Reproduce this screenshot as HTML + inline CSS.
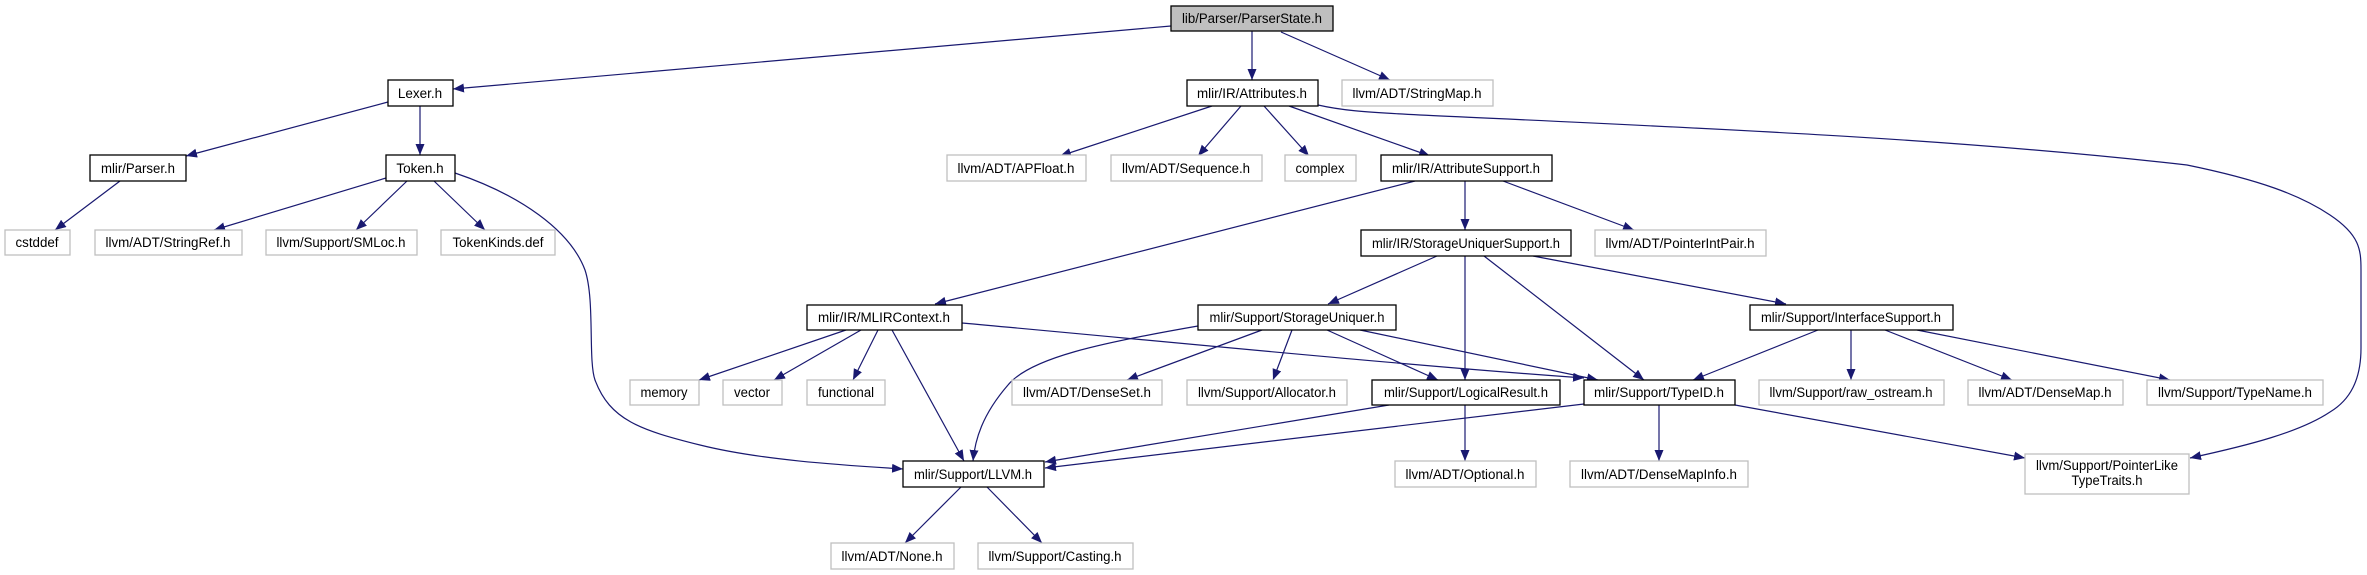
<!DOCTYPE html>
<html><head><meta charset="utf-8"><style>html,body{margin:0;padding:0;background:#fff}svg{display:block}</style></head>
<body>
<svg width="2367" height="575" viewBox="0 0 2367 575" xmlns="http://www.w3.org/2000/svg" font-family="Liberation Sans, Arial, sans-serif" font-size="13.5">
<defs>
<marker id="a" markerUnits="userSpaceOnUse" markerWidth="12" markerHeight="10" refX="11" refY="4.5" orient="auto">
<path d="M0,0 L11,4.5 L0,9 z" fill="#191970"/>
</marker>
</defs>
<g stroke="#191970" stroke-width="1.2" fill="none" marker-end="url(#a)">
<path d="M1171,26 L453,89"/>
<path d="M1252,31 L1252,80"/>
<path d="M1281,32 L1390,80"/>
<path d="M388,102 L186,156"/>
<path d="M420,106 L420,155"/>
<path d="M120,181 L55,230"/>
<path d="M386,178 L214,230"/>
<path d="M407,181 L356,230"/>
<path d="M434,181 L485,230"/>
<path d="M455,173 C520,195 570,230 585,270 C595,300 588,360 595,380 C610,420 640,430 700,445 C760,460 840,465 903,469"/>
<path d="M1212,106 L1060,156"/>
<path d="M1241,106 L1198,156"/>
<path d="M1264,106 L1309,156"/>
<path d="M1289,106 L1430,156"/>
<path d="M1318,105 C1340,110 1360,112 1420,115 C1700,128 1950,138 2187,165 C2260,180 2300,195 2330,215 C2360,235 2361,250 2361,270 L2361,348 C2361,380 2350,400 2330,412 C2300,432 2250,445 2190,458"/>
<path d="M1415,181 L935,304"/>
<path d="M1465,181 L1465,230"/>
<path d="M1503,181 L1634,230"/>
<path d="M1437,256 L1328,304"/>
<path d="M1465,256 L1465,380"/>
<path d="M1484,256 L1644,380"/>
<path d="M1533,256 L1786,304"/>
<path d="M846,330 L699,380"/>
<path d="M861,330 L774,380"/>
<path d="M878,330 L853,380"/>
<path d="M892,330 L964,461"/>
<path d="M962,323 C1150,340 1400,365 1584,378"/>
<path d="M1198,326 C1100,343 1030,358 1008,385 C982,415 975,440 973,461"/>
<path d="M1262,330 L1127,380"/>
<path d="M1292,330 L1273,380"/>
<path d="M1327,330 L1438,380"/>
<path d="M1360,330 L1598,380"/>
<path d="M1818,330 L1693,380"/>
<path d="M1851,330 L1851,380"/>
<path d="M1885,330 L2012,380"/>
<path d="M1917,330 L2170,380"/>
<path d="M1389,405 L1045,462"/>
<path d="M1465,405 L1465,461"/>
<path d="M1584,404 L1045,468"/>
<path d="M1659,405 L1659,461"/>
<path d="M1735,405 L2025,458"/>
<path d="M961,487 L905,543"/>
<path d="M987,487 L1042,543"/>
</g>
<g text-anchor="middle" fill="#000">
<!-- boxes: x,y,w,h -->
<rect x="1171" y="6" width="162" height="25" fill="#bfbfbf" stroke="#000" stroke-width="1.3"/>
<text x="1252" y="23" textLength="140" lengthAdjust="spacingAndGlyphs">lib/Parser/ParserState.h</text>

<g fill="#fff" stroke="#000" stroke-width="1.3">
<rect x="388" y="80" width="65" height="26"/>
<rect x="90" y="155" width="96" height="26"/>
<rect x="386" y="155" width="69" height="26"/>
<rect x="1187" y="80" width="131" height="26"/>
<rect x="1381" y="155" width="171" height="26"/>
<rect x="1361" y="230" width="210" height="26"/>
<rect x="807" y="305" width="155" height="25"/>
<rect x="1198" y="305" width="198" height="25"/>
<rect x="1750" y="305" width="203" height="25"/>
<rect x="1372" y="380" width="188" height="25"/>
<rect x="1584" y="380" width="151" height="25"/>
<rect x="903" y="461" width="141" height="26"/>
</g>
<g fill="#fff" stroke="#bfbfbf" stroke-width="1.3">
<rect x="5" y="230" width="65" height="25"/>
<rect x="95" y="230" width="147" height="25"/>
<rect x="266" y="230" width="151" height="25"/>
<rect x="441" y="230" width="114" height="25"/>
<rect x="630" y="380" width="69" height="25"/>
<rect x="723" y="380" width="59" height="25"/>
<rect x="1342" y="80" width="151" height="26"/>
<rect x="947" y="155" width="139" height="26"/>
<rect x="1111" y="155" width="151" height="26"/>
<rect x="1285" y="155" width="71" height="26"/>
<rect x="1595" y="230" width="171" height="26"/>
<rect x="807" y="380" width="78" height="25"/>
<rect x="1012" y="380" width="150" height="25"/>
<rect x="1187" y="380" width="160" height="25"/>
<rect x="1759" y="380" width="185" height="25"/>
<rect x="1968" y="380" width="155" height="25"/>
<rect x="2147" y="380" width="176" height="25"/>
<rect x="1395" y="461" width="141" height="26"/>
<rect x="1570" y="461" width="178" height="26"/>
<rect x="2025" y="454" width="164" height="40"/>
<rect x="831" y="543" width="123" height="26"/>
<rect x="978" y="543" width="155" height="26"/>
</g>

<text x="420" y="98">Lexer.h</text>
<text x="138" y="173" textLength="74" lengthAdjust="spacingAndGlyphs">mlir/Parser.h</text>
<text x="420" y="173">Token.h</text>
<text x="1252" y="98" textLength="110" lengthAdjust="spacingAndGlyphs">mlir/IR/Attributes.h</text>
<text x="1466" y="173" textLength="148" lengthAdjust="spacingAndGlyphs">mlir/IR/AttributeSupport.h</text>
<text x="1466" y="248" textLength="188" lengthAdjust="spacingAndGlyphs">mlir/IR/StorageUniquerSupport.h</text>
<text x="884" y="322" textLength="132" lengthAdjust="spacingAndGlyphs">mlir/IR/MLIRContext.h</text>
<text x="1297" y="322" textLength="175" lengthAdjust="spacingAndGlyphs">mlir/Support/StorageUniquer.h</text>
<text x="1851" y="322" textLength="180" lengthAdjust="spacingAndGlyphs">mlir/Support/InterfaceSupport.h</text>
<text x="1466" y="397" textLength="164" lengthAdjust="spacingAndGlyphs">mlir/Support/LogicalResult.h</text>
<text x="1659" y="397" textLength="130" lengthAdjust="spacingAndGlyphs">mlir/Support/TypeID.h</text>
<text x="973" y="479" textLength="118" lengthAdjust="spacingAndGlyphs">mlir/Support/LLVM.h</text>

<text x="37" y="247" textLength="43" lengthAdjust="spacingAndGlyphs">cstddef</text>
<text x="168" y="247" textLength="125" lengthAdjust="spacingAndGlyphs">llvm/ADT/StringRef.h</text>
<text x="341" y="247" textLength="129" lengthAdjust="spacingAndGlyphs">llvm/Support/SMLoc.h</text>
<text x="498" y="247" textLength="91" lengthAdjust="spacingAndGlyphs">TokenKinds.def</text>
<text x="664" y="397" textLength="47" lengthAdjust="spacingAndGlyphs">memory</text>
<text x="752" y="397" textLength="36" lengthAdjust="spacingAndGlyphs">vector</text>
<text x="1417" y="98" textLength="129" lengthAdjust="spacingAndGlyphs">llvm/ADT/StringMap.h</text>
<text x="1016" y="173" textLength="117" lengthAdjust="spacingAndGlyphs">llvm/ADT/APFloat.h</text>
<text x="1186" y="173" textLength="128" lengthAdjust="spacingAndGlyphs">llvm/ADT/Sequence.h</text>
<text x="1320" y="173" textLength="49" lengthAdjust="spacingAndGlyphs">complex</text>
<text x="1680" y="248" textLength="149" lengthAdjust="spacingAndGlyphs">llvm/ADT/PointerIntPair.h</text>
<text x="846" y="397" textLength="56" lengthAdjust="spacingAndGlyphs">functional</text>
<text x="1087" y="397" textLength="128" lengthAdjust="spacingAndGlyphs">llvm/ADT/DenseSet.h</text>
<text x="1267" y="397" textLength="138" lengthAdjust="spacingAndGlyphs">llvm/Support/Allocator.h</text>
<text x="1851" y="397" textLength="163" lengthAdjust="spacingAndGlyphs">llvm/Support/raw_ostream.h</text>
<text x="2045" y="397" textLength="133" lengthAdjust="spacingAndGlyphs">llvm/ADT/DenseMap.h</text>
<text x="2235" y="397" textLength="154" lengthAdjust="spacingAndGlyphs">llvm/Support/TypeName.h</text>
<text x="1465" y="479" textLength="119" lengthAdjust="spacingAndGlyphs">llvm/ADT/Optional.h</text>
<text x="1659" y="479" textLength="156" lengthAdjust="spacingAndGlyphs">llvm/ADT/DenseMapInfo.h</text>
<text x="2107" y="470" textLength="142" lengthAdjust="spacingAndGlyphs">llvm/Support/PointerLike</text>
<text x="2107" y="485" textLength="71" lengthAdjust="spacingAndGlyphs">TypeTraits.h</text>
<text x="892" y="561" textLength="101" lengthAdjust="spacingAndGlyphs">llvm/ADT/None.h</text>
<text x="1055" y="561" textLength="133" lengthAdjust="spacingAndGlyphs">llvm/Support/Casting.h</text>
</g>
</svg>
</body></html>
